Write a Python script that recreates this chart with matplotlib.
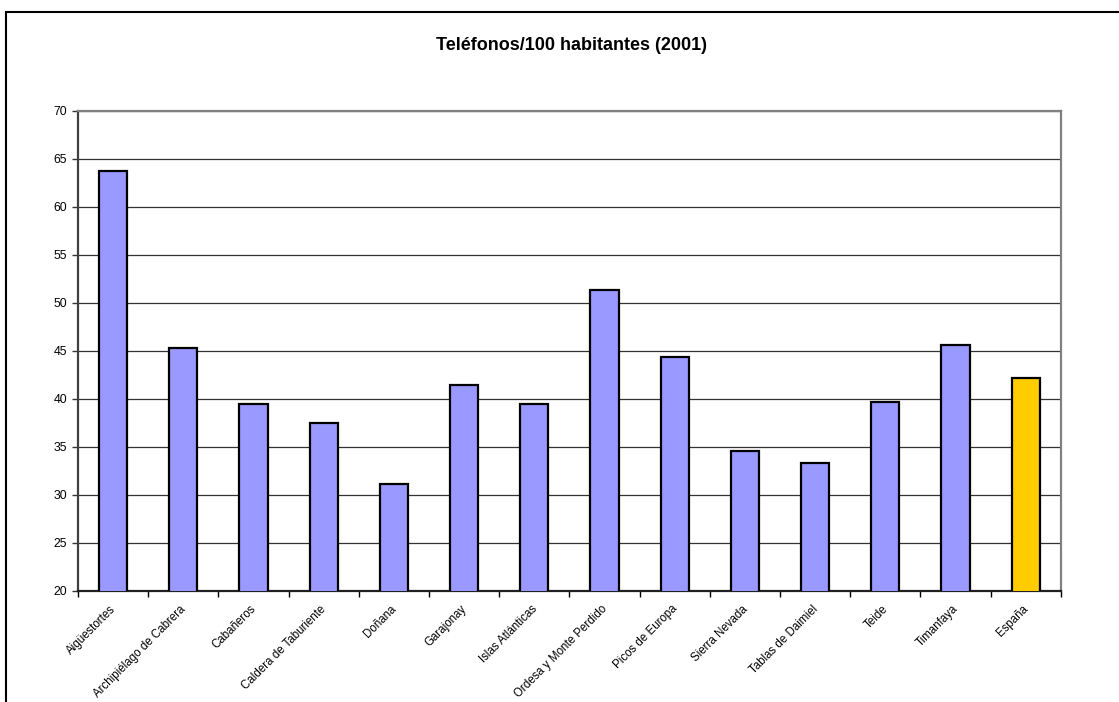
import matplotlib.pyplot as plt
from matplotlib.patches import Rectangle
import numpy as np

plt.rcParams['font.family'] = ['Liberation Sans', 'DejaVu Sans']

# Parques nacionales y media de España
parques = ['Aigüestortes', 'Archipiélago de Cabrera', 'Cabañeros',
           'Caldera de Taburiente', 'Doñana', 'Garajonay', 'Islas Atlánticas',
           'Ordesa y Monte Perdido', 'Picos de Europa', 'Sierra Nevada',
           'Tablas de Daimiel', 'Teide', 'Timanfaya', 'España']
telefonos = [63.7, 45.3, 39.4, 37.5, 31.1, 41.4, 39.4,
             51.3, 44.4, 34.5, 33.3, 39.7, 45.6, 42.2]
colores = ['#9999FF'] * 13 + ['#FFCC00']

fig = plt.figure(figsize=(11.19, 7.02), dpi=100)
ax = fig.add_axes([0.0697, 0.1588, 0.8783, 0.6831])

x = np.arange(len(parques))
ax.bar(x, telefonos, width=0.4, bottom=0, color=colores,
       edgecolor='black', linewidth=1.6, zorder=3)

ax.set_ylim(20, 70)
ax.set_xlim(-0.5, len(parques) - 0.5)
ax.set_yticks(range(20, 71, 5))
ax.yaxis.grid(True, color='#333333', linewidth=0.9, zorder=0)
ax.tick_params(axis='y', labelsize=8.8, length=4, width=1, direction='out',
               color='#333333', pad=4)

# marcas del eje x entre categorias
ax.set_xticks(x - 0.05)
ax.set_xticklabels(parques, rotation=45, ha='right', va='top',
                   rotation_mode='anchor', fontsize=8.3)
ax.tick_params(axis='x', length=0, pad=9)
ax.set_xticks(np.arange(-0.5, len(parques)), minor=True)
ax.tick_params(axis='x', which='minor', length=4, width=1, color='black')

for s in ['top', 'right']:
    ax.spines[s].set_color('#808080')
    ax.spines[s].set_linewidth(1.6)
ax.spines['left'].set_color('#404040')
ax.spines['left'].set_linewidth(1.6)
ax.spines['bottom'].set_color('#202020')
ax.spines['bottom'].set_linewidth(1.6)

fig.text(0.511, 1 - 46 / 702, 'Teléfonos/100 habitantes (2001)',
         ha='center', va='center', fontsize=13, fontweight='bold')

# marco exterior del grafico
fig.patches.append(Rectangle((6 / 1119, -0.2), 1.2, 1.2 - 12 / 702,
                             transform=fig.transFigure, fill=False,
                             edgecolor='black', linewidth=1.5))

fig.savefig('out.png', dpi=100)
